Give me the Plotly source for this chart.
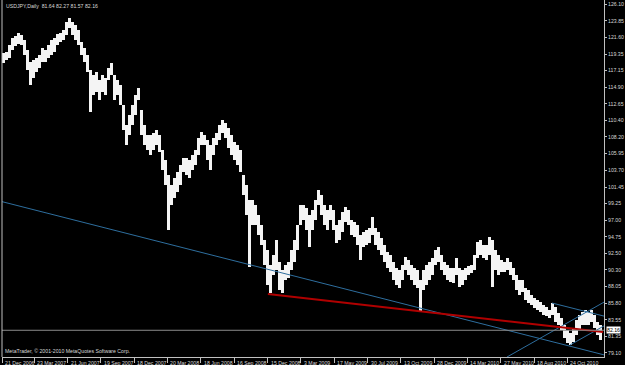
import plotly.graph_objects as go

# ---- data (weekly-ish columns) ----
highs = [119.50,119.64,120.58,121.52,121.79,122.19,121.93,121.25,119.90,118.29,
         118.56,118.83,119.23,120.17,119.90,120.58,121.25,121.52,122.06,122.19,
         122.60,123.68,124.21,123.68,123.27,122.60,120.98,120.17,119.23,117.21,
         116.54,116.94,115.87,116.54,116.13,117.48,118.15,116.54,115.87,115.19,
         112.50,109.81,111.15,112.50,113.85,114.79,111.83,109.81,108.46,108.46,
         108.73,109.13,108.46,106.44,105.09,103.07,101.72,102.67,103.48,104.42,
         105.36,105.36,105.09,105.77,106.44,108.06,108.86,108.46,107.78,107.11,
         108.06,108.73,109.81,110.48,110.07,109.40,108.46,107.52,107.11,106.44,
         103.07,101.72,99.70,99.70,99.03,97.68,96.34,94.32,92.97,90.95,
         92.30,94.32,91.36,90.28,90.95,91.36,92.97,94.32,96.34,99.03,
         99.03,98.62,97.68,98.36,99.70,101.05,100.38,99.03,98.36,99.03,
         98.36,96.34,97.01,98.09,98.76,98.36,97.01,96.74,96.34,94.99,
         95.40,95.67,95.94,97.41,95.94,95.40,94.59,93.65,92.70,92.30,
         91.36,90.55,90.28,90.95,92.03,91.62,90.95,90.55,90.28,88.93,
         90.28,90.95,91.36,91.89,92.97,93.38,92.30,91.36,90.95,90.55,
         90.55,91.89,90.55,90.28,90.55,90.82,90.95,92.30,94.05,94.32,
         93.65,93.65,94.72,94.32,92.97,92.30,91.62,91.36,91.89,91.36,
         90.55,89.60,88.93,88.93,87.85,87.58,86.91,86.51,86.24,85.97,
         85.56,85.30,84.89,85.83,85.30,84.49,83.81,82.86,82.19,81.79,
         82.46,83.54,84.22,84.62,84.89,84.62,84.89,84.22,83.27,82.86]
lows = [118.15,118.56,118.83,119.90,120.44,120.71,120.58,119.23,117.21,115.19,
        116.13,116.94,117.48,118.29,118.29,118.83,119.23,119.64,120.58,120.98,
        121.25,121.93,122.87,121.93,121.25,120.58,119.23,118.29,116.94,111.56,
        113.85,114.25,113.17,114.25,113.85,115.87,116.54,113.17,113.85,112.50,
        109.13,107.11,108.46,109.81,111.15,113.17,108.46,107.11,106.44,105.77,
        106.44,107.11,106.17,103.75,101.72,95.67,99.03,99.97,100.78,101.72,
        103.48,103.07,102.67,103.75,104.42,105.77,107.11,107.11,105.09,103.75,
        105.77,107.11,107.78,108.73,108.06,106.71,105.77,105.09,104.42,103.48,
        100.38,97.68,90.68,96.34,96.34,94.99,93.65,90.95,88.26,87.18,
        89.60,90.28,87.58,87.18,88.93,89.20,90.28,91.36,92.97,96.34,
        97.01,95.67,93.38,95.67,97.01,99.03,97.68,96.34,95.67,97.01,
        95.67,93.92,94.32,95.40,96.74,96.34,94.99,94.72,93.65,91.62,
        93.38,93.65,93.92,94.99,93.65,92.97,92.30,91.36,90.55,90.01,
        88.93,88.26,87.85,88.93,90.28,89.60,88.93,88.26,87.85,84.62,
        87.58,88.26,88.93,89.60,90.95,91.36,90.28,89.60,88.93,88.66,
        88.53,89.60,87.99,88.26,88.93,89.60,89.87,90.28,91.89,92.30,
        91.89,91.62,92.30,87.99,90.28,89.60,90.01,90.01,90.28,89.60,
        88.93,87.58,86.91,87.31,86.24,85.83,85.56,85.16,84.89,84.62,
        84.22,84.08,83.81,84.22,83.27,82.86,82.19,81.12,80.45,80.18,
        80.58,81.52,82.19,82.86,82.86,82.86,83.27,82.46,81.52,80.85]

date_labels = ["21 Dec 2006", "23 Mar 2007", "21 Jun 2007", "19 Sep 2007", "18 Dec 2007",
               "20 Mar 2008", "18 Jun 2008", "16 Sep 2008", "15 Dec 2008", "3 Mar 2009",
               "17 May 2009", "30 Jul 2009", "13 Oct 2009", "28 Dec 2009", "14 Mar 2010",
               "27 May 2010", "18 Aug 2010", "24 Oct 2010"]
date_pos = [-0.3, 10.4, 21.5, 32.6, 43.7, 54.8, 65.9, 77.1, 88.2, 99.3,
            110.4, 121.5, 132.6, 143.7, 154.8, 165.9, 177.0, 188.1]

price_ticks = [126.10, 123.85, 121.60, 119.35, 117.15, 114.90, 112.65, 110.40, 108.20,
               105.95, 103.70, 101.45, 99.25, 97.00, 94.75, 92.50, 90.30, 88.05, 85.80,
               83.55, 81.35, 79.10]

bid_price = 82.16

# trend lines: (index, price) endpoints
blue_long_x = [-1.0, 201.0]
blue_long_y = [99.55, 78.78]
red_x = [88.3, 200.0]
red_y = [87.05, 81.93]
blue_upper_x = [183.0, 201.0]
blue_upper_y = [85.83, 84.00]
blue_rise_x = [168.0, 201.0]
blue_rise_y = [78.56, 86.10]
blue_rise2_x = [189.0, 201.0]
blue_rise2_y = [80.18, 82.90]

# ---- figure ----
xs = list(range(len(highs)))
fig = go.Figure()
fig.add_trace(go.Bar(x=xs, base=lows, y=[h - l for h, l in zip(highs, lows)],
                     width=1.0, marker=dict(color="#F4F4F4", line=dict(width=0)),
                     hoverinfo="skip"))

line_blue = "#2E6E9E"
for lx, ly in [(blue_long_x, blue_long_y), (blue_upper_x, blue_upper_y),
               (blue_rise_x, blue_rise_y), (blue_rise2_x, blue_rise2_y)]:
    fig.add_trace(go.Scatter(x=lx, y=ly, mode="lines",
                             line=dict(color=line_blue, width=1), hoverinfo="skip"))
fig.add_trace(go.Scatter(x=red_x, y=red_y, mode="lines",
                         line=dict(color="#B00000", width=2), hoverinfo="skip"))

# bid line
fig.add_shape(type="line", xref="paper", x0=0, x1=1, yref="y", y0=bid_price, y1=bid_price,
              line=dict(color="#8A8A8A", width=1))
# left frame line
fig.add_shape(type="line", xref="paper", x0=0, x1=0, yref="paper", y0=0, y1=1,
              line=dict(color="#C0C0C0", width=1))

fam = "Liberation Sans"
font_small = dict(family=fam, size=5.2, color="#D8D8D8")

for lab, p in zip(date_labels, date_pos):
    fig.add_annotation(x=p, y=0, xref="x", yref="paper", text=lab, showarrow=False,
                       xanchor="left", yanchor="top", xshift=1, yshift=-1, font=font_small)

fig.add_annotation(x=0, y=1, xref="paper", yref="paper",
                   text="USDJPY,Daily  81.64 82.27 81.57 82.16", showarrow=False,
                   xanchor="left", yanchor="top", xshift=2, yshift=-1, font=font_small)
fig.add_annotation(x=0, y=0, xref="paper", yref="paper",
                   text="MetaTrader, © 2001-2010 MetaQuotes Software Corp.", showarrow=False,
                   xanchor="left", yanchor="bottom", xshift=1, yshift=1, font=font_small)
fig.add_annotation(x=1, y=bid_price, xref="paper", yref="y", text="%.2f" % bid_price,
                   showarrow=False, xanchor="left", yanchor="middle", xshift=2,
                   bgcolor="#FFFFFF", font=dict(family=fam, size=5.2, color="#000000"),
                   borderpad=0)

fig.update_layout(
    width=625, height=365, autosize=False,
    margin=dict(l=2, r=21, t=0, b=8),
    paper_bgcolor="#000000", plot_bgcolor="#000000",
    showlegend=False, bargap=0,
    xaxis=dict(range=[-0.333, 200.333], showgrid=False, zeroline=False,
               showline=True, linecolor="#C0C0C0", linewidth=1,
               ticks="outside", ticklen=5, tickcolor="#C0C0C0", tickwidth=1,
               tickvals=date_pos, showticklabels=False, fixedrange=True),
    yaxis=dict(range=[78.56, 126.64], side="right", showgrid=False, zeroline=False,
               showline=True, linecolor="#C0C0C0", linewidth=1,
               ticks="outside", ticklen=2, tickcolor="#C0C0C0",
               ticklabelstandoff=0,
               tickvals=price_ticks, ticktext=["%.2f" % v for v in price_ticks],
               tickfont=font_small, fixedrange=True),
)

fig.write_html("out.html")
